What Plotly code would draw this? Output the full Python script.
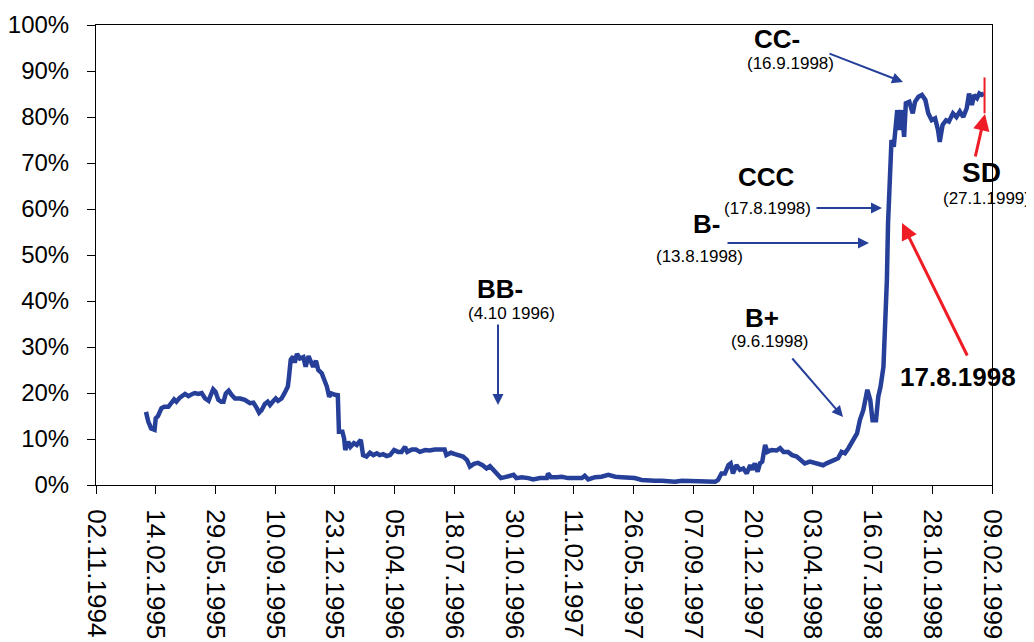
import plotly.graph_objects as go

# ---- data ----
spread_dates = [
    "1995-01-28", "1995-02-01", "1995-02-06", "1995-02-12", "1995-02-14", "1995-02-18",
    "1995-02-24", "1995-03-01", "1995-03-08", "1995-03-14", "1995-03-18", "1995-03-22",
    "1995-03-28", "1995-04-06", "1995-04-12", "1995-04-19", "1995-04-23", "1995-04-29",
    "1995-05-05", "1995-05-11", "1995-05-17", "1995-05-20", "1995-05-25", "1995-05-29",
    "1995-06-03", "1995-06-08", "1995-06-12", "1995-06-16", "1995-06-21", "1995-06-26",
    "1995-07-02", "1995-07-11", "1995-07-19", "1995-07-28", "1995-08-03", "1995-08-09",
    "1995-08-13", "1995-08-17", "1995-08-23", "1995-08-28", "1995-09-01", "1995-09-07",
    "1995-09-11", "1995-09-15", "1995-09-21", "1995-09-26", "1995-10-02", "1995-10-04",
    "1995-10-07", "1995-10-11", "1995-10-14", "1995-10-18", "1995-10-23", "1995-10-29",
    "1995-11-02", "1995-11-07", "1995-11-11", "1995-11-15", "1995-11-20", "1995-11-24",
    "1995-11-30", "1995-12-05", "1995-12-09", "1995-12-13", "1995-12-17", "1995-12-23",
    "1995-12-28", "1995-12-30", "1996-01-05", "1996-01-08", "1996-01-10", "1996-01-15",
    "1996-01-19", "1996-01-25", "1996-01-30", "1996-02-06", "1996-02-10", "1996-02-16",
    "1996-02-22", "1996-02-28", "1996-03-05", "1996-03-10", "1996-03-16", "1996-03-22",
    "1996-03-28", "1996-04-04", "1996-04-11", "1996-04-17", "1996-04-23", "1996-04-27",
    "1996-05-05", "1996-05-12", "1996-05-19", "1996-05-28", "1996-06-05", "1996-06-14",
    "1996-06-23", "1996-07-01", "1996-07-04", "1996-07-12", "1996-07-19", "1996-07-28",
    "1996-08-02", "1996-08-09", "1996-08-14", "1996-08-21", "1996-08-28", "1996-09-05",
    "1996-09-12", "1996-09-18", "1996-09-24", "1996-10-02", "1996-10-07", "1996-10-14",
    "1996-10-23", "1996-10-29", "1996-11-03", "1996-11-12", "1996-11-24", "1996-12-02",
    "1996-12-14", "1996-12-26", "1996-12-28", "1997-01-02", "1997-01-12", "1997-01-21",
    "1997-02-01", "1997-02-13", "1997-02-25", "1997-03-02", "1997-03-08", "1997-03-20",
    "1997-03-31", "1997-04-12", "1997-04-24", "1997-05-05", "1997-05-17", "1997-05-28",
    "1997-06-09", "1997-06-21", "1997-07-02", "1997-07-14", "1997-07-25", "1997-08-06",
    "1997-08-18", "1997-08-29", "1997-09-10", "1997-09-22", "1997-10-03", "1997-10-15",
    "1997-10-20", "1997-10-26", "1997-11-01", "1997-11-07", "1997-11-11", "1997-11-15",
    "1997-11-21", "1997-11-27", "1997-12-03", "1997-12-09", "1997-12-15", "1997-12-19",
    "1997-12-23", "1997-12-28", "1998-01-01", "1998-01-05", "1998-01-10", "1998-01-14",
    "1998-01-21", "1998-01-30", "1998-02-05", "1998-02-11", "1998-02-19", "1998-02-26",
    "1998-03-06", "1998-03-15", "1998-03-20", "1998-03-29", "1998-04-10", "1998-04-21",
    "1998-04-27", "1998-05-09", "1998-05-17", "1998-05-23", "1998-05-29", "1998-06-04",
    "1998-06-10", "1998-06-15", "1998-06-19", "1998-06-24", "1998-06-30", "1998-07-07",
    "1998-07-12", "1998-07-16", "1998-07-22", "1998-07-26", "1998-07-30", "1998-08-04",
    "1998-08-07", "1998-08-10", "1998-08-12", "1998-08-15", "1998-08-18", "1998-08-22",
    "1998-08-26", "1998-08-28", "1998-09-01", "1998-09-05", "1998-09-09", "1998-09-12",
    "1998-09-18", "1998-09-24", "1998-09-28", "1998-10-04", "1998-10-10", "1998-10-16",
    "1998-10-21", "1998-10-27", "1998-11-02", "1998-11-07", "1998-11-10", "1998-11-15",
    "1998-11-21", "1998-11-26", "1998-12-03", "1998-12-09", "1998-12-15", "1998-12-21",
    "1998-12-27", "1998-12-31", "1999-01-05", "1999-01-09", "1999-01-14", "1999-01-18",
    "1999-01-22", "1999-01-26",
]
spread_pct = [
    15.9, 13.8, 12.3, 12.0, 14.5, 15.0,
    16.7, 17.0, 17.0, 17.9, 18.6, 18.1,
    19.0, 19.8, 19.3, 19.8, 20.0, 19.8,
    20.0, 18.8, 18.3, 19.3, 20.8, 20.3,
    18.5, 18.1, 18.1, 19.9, 20.5, 19.6,
    18.8, 18.8, 18.5, 17.8, 17.9, 16.7,
    15.7, 16.2, 17.6, 18.1, 17.4, 18.3,
    18.8, 18.3, 18.8, 19.9, 21.4, 23.5,
    27.2, 27.9, 26.6, 28.5, 27.5, 27.8,
    25.7, 28.0, 26.8, 25.7, 27.0, 25.0,
    24.3, 22.5, 21.4, 19.2, 19.9, 19.6,
    19.5, 11.6, 11.6, 10.1, 7.6, 9.4,
    8.3, 9.1, 8.7, 9.8, 6.5, 6.2,
    7.0, 6.5, 6.9, 6.5, 6.7, 6.3,
    6.5, 7.6, 7.2, 7.2, 8.3, 7.2,
    7.7, 7.7, 7.2, 7.6, 7.5, 7.7,
    7.6, 7.7, 6.5, 7.0, 6.7, 6.3,
    6.2, 5.4, 4.0, 4.6, 4.8, 4.3,
    3.6, 4.1, 3.3, 2.5, 1.5, 1.7,
    2.0, 2.2, 1.5, 1.7, 1.5, 1.2,
    1.5, 1.5, 2.5, 1.7, 1.7, 1.8,
    1.5, 1.5, 1.5, 2.0, 1.2, 1.7,
    1.8, 2.2, 1.8, 1.7, 1.7, 1.5,
    1.1, 0.9, 0.9, 0.9, 0.7, 0.7,
    0.9, 0.9, 0.7, 0.9, 0.7, 0.7,
    1.1, 2.5, 2.5, 4.3, 4.7, 2.5,
    4.3, 3.3, 3.6, 2.5, 4.3, 3.3,
    4.7, 2.9, 4.7, 5.1, 8.7, 7.2,
    7.6, 7.5, 8.0, 7.2, 7.2, 6.5,
    6.2, 5.4, 4.7, 5.1, 4.7, 4.3,
    4.7, 5.4, 5.8, 7.2, 6.9, 8.0,
    9.4, 10.5, 11.2, 14.1, 16.3, 20.7,
    18.5, 14.1, 14.1, 19.2, 21.4, 25.7,
    33.7, 44.6, 56.9, 64.1, 75.0, 73.5,
    80.0, 81.5, 77.2, 81.5, 75.7, 83.0,
    83.3, 80.8, 83.3, 84.4, 84.8, 83.7,
    80.8, 79.3, 79.7, 77.2, 74.6, 78.3,
    79.3, 79.0, 80.8, 80.0, 81.2, 80.0,
    81.9, 85.1, 82.6, 84.8, 84.1, 85.1,
    84.8, 85.1,
]

# Selective default day (shown in red)
sd_dates = ["1999-01-27", "1999-01-27"]
sd_pct = [88.6, 80.8]

tick_dates = [
    "1994-11-02", "1995-02-14", "1995-05-29", "1995-09-10", "1995-12-23",
    "1996-04-05", "1996-07-18", "1996-10-30", "1997-02-11", "1997-05-26",
    "1997-09-07", "1997-12-20", "1998-04-03", "1998-07-16", "1998-10-28",
    "1999-02-09",
]
tick_labels = [
    "02.11.1994", "14.02.1995", "29.05.1995", "10.09.1995", "23.12.1995",
    "05.04.1996", "18.07.1996", "30.10.1996", "11.02.1997", "26.05.1997",
    "07.09.1997", "20.12.1997", "03.04.1998", "16.07.1998", "28.10.1998",
    "09.02.1999",
]
y_ticks = [0, 10, 20, 30, 40, 50, 60, 70, 80, 90, 100]
y_tick_labels = ["0%", "10%", "20%", "30%", "40%", "50%", "60%", "70%", "80%", "90%", "100%"]

BLUE = "#26409A"
RED = "#EE1C25"
FONT = "Liberation Sans, Arial, sans-serif"

fig = go.Figure()
fig.add_trace(go.Scatter(x=spread_dates, y=spread_pct, mode="lines",
                         line=dict(color=BLUE, width=4.5), hoverinfo="x+y",
                         showlegend=False))
fig.add_trace(go.Scatter(x=sd_dates, y=sd_pct, mode="lines",
                         line=dict(color=RED, width=2), showlegend=False))

# page geometry: the page body has an 8px margin around the figure
OFF = 8
W, H = 1034 - OFF, 642 - OFF
# plot-area edges in window pixels
L, R, T, B = 96, 992, 25, 485


def px(xp):
    return (xp - L) / (R - L)


def py(yp):
    return (B - yp) / (B - T)


annotations = []


def label(text, x, y, size):
    annotations.append(dict(text=text, x=px(x), y=py(y), xref="paper", yref="paper",
                            showarrow=False, xanchor="center", yanchor="middle",
                            font=dict(family=FONT, size=size, color="black")))


def arrow(head, tail, color, width):
    annotations.append(dict(text="", x=px(head[0]), y=py(head[1]), xref="paper", yref="paper",
                            ax=tail[0] - head[0], ay=tail[1] - head[1],
                            showarrow=True, arrowhead=2, arrowsize=1.1,
                            arrowwidth=width, arrowcolor=color))


label("<b>CC-</b>", 777, 39, 26)
label("(16.9.1998)", 790, 64, 17)
label("<b>CCC</b>", 766, 177, 26)
label("(17.8.1998)", 767, 208, 17)
label("<b>B-</b>", 706, 224, 26)
label("(13.8.1998)", 699, 256, 17)
label("<b>BB-</b>", 500, 289, 26)
label("(4.10 1996)", 511, 313, 17)
label("<b>B+</b>", 762, 318, 26)
label("(9.6.1998)", 770, 341, 17)
label("<b>SD</b>", 981, 172, 28)
label("(27.1.1999)", 986, 198, 17)
label("<b>17.8.1998</b>", 958, 377, 26)

arrow((903, 82), (828, 53), BLUE, 2)
arrow((882, 208), (815, 208), BLUE, 2)
arrow((869, 243), (726, 243), BLUE, 2)
arrow((498, 405), (498, 323), BLUE, 2)
arrow((843, 417), (791, 357), BLUE, 2)
arrow((985, 114), (975, 158), RED, 3)
arrow((902, 223), (968, 357), RED, 3)

fig.update_layout(
    width=W, height=H,
    margin=dict(l=L - OFF, r=1034 - R, t=T - OFF, b=642 - B, pad=0, autoexpand=False),
    paper_bgcolor="white", plot_bgcolor="white",
    font=dict(family=FONT, size=20, color="black"),
    annotations=annotations,
    xaxis=dict(type="date", range=["1994-11-02", "1999-02-09"],
               tickmode="array", tickvals=tick_dates, ticktext=tick_labels,
               tickangle=90, ticks="outside", ticklen=8, tickcolor="black",
               tickfont=dict(family=FONT, size=26, color="black"),
               ticklabelstandoff=10, automargin=False,
               showline=True, linecolor="black", linewidth=1, mirror=True,
               showgrid=False, zeroline=False),
    yaxis=dict(range=[0, 100], tickmode="array", tickvals=y_ticks, ticktext=y_tick_labels,
               ticks="outside", ticklen=8, tickcolor="black",
               tickfont=dict(family=FONT, size=24, color="black"),
               ticklabelstandoff=13, automargin=False,
               showline=True, linecolor="black", linewidth=1, mirror=True,
               showgrid=False, zeroline=False),
)

fig.write_html("out.html")
